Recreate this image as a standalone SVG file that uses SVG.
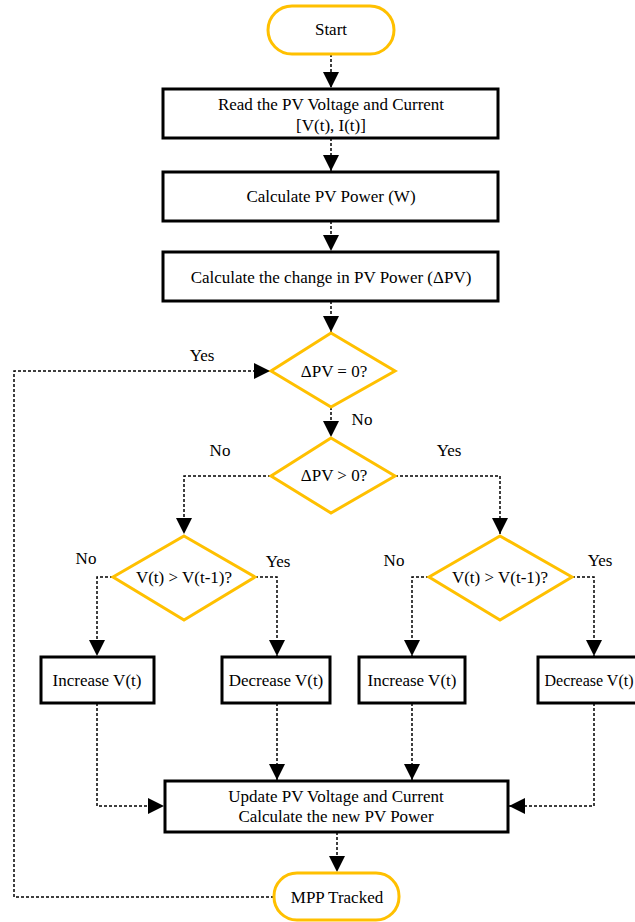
<svg xmlns="http://www.w3.org/2000/svg" width="635" height="922" viewBox="0 0 635 922">
<defs>
<marker id="ah" viewBox="0 0 10 10" refX="10" refY="5" markerWidth="16" markerHeight="16" markerUnits="userSpaceOnUse" orient="auto">
<path d="M0,0 L10,5 L0,10 Z" fill="#000"/>
</marker>
<style>
.t{font-family:"Liberation Serif","Times New Roman",serif;font-size:17px;fill:#000;text-anchor:middle}
.box{fill:#fff;stroke:#000;stroke-width:3}
.dec{fill:#fff;stroke:#FFC000;stroke-width:3}
.c{fill:none;stroke:#000;stroke-width:1.5;stroke-dasharray:3,2}
</style>
</defs>
<rect width="635" height="922" fill="#fff"/>
<g id="connectors">
<path class="c" d="M331,54 V88" marker-end="url(#ah)"/>
<path class="c" d="M331,138 V171" marker-end="url(#ah)"/>
<path class="c" d="M331,221 V251" marker-end="url(#ah)"/>
<path class="c" d="M331,301 V332" marker-end="url(#ah)"/>
<path class="c" d="M331,407 V437" marker-end="url(#ah)"/>
<path class="c" d="M271,476 H184 V534" marker-end="url(#ah)"/>
<path class="c" d="M395,476 H500 V534" marker-end="url(#ah)"/>
<path class="c" d="M113,577 H97 V656" marker-end="url(#ah)"/>
<path class="c" d="M255,577 H277 V656" marker-end="url(#ah)"/>
<path class="c" d="M429,577 H412 V656" marker-end="url(#ah)"/>
<path class="c" d="M572,577 H594 V656" marker-end="url(#ah)"/>
<path class="c" d="M97,703 V806 H164" marker-end="url(#ah)"/>
<path class="c" d="M277,703 V780" marker-end="url(#ah)"/>
<path class="c" d="M412,703 V780" marker-end="url(#ah)"/>
<path class="c" d="M594,703 V806 H509" marker-end="url(#ah)"/>
<path class="c" d="M337,832 V872" marker-end="url(#ah)"/>
<path class="c" d="M274,897 H14 V371 H270" marker-end="url(#ah)"/>
</g>
<g id="start">
<rect class="dec" x="268" y="6" width="126" height="48" rx="24"/>
<text class="t" x="331" y="35">Start</text>
</g>
<g id="read">
<rect class="box" x="163" y="89" width="335" height="49"/>
<text class="t" x="331" y="110">Read the PV Voltage and Current</text>
<text class="t" x="331" y="131">[V(t), I(t)]</text>
</g>
<g id="calcpower">
<rect class="box" x="163" y="172" width="335" height="49"/>
<text class="t" x="331" y="202">Calculate PV Power (W)</text>
</g>
<g id="calcchange">
<rect class="box" x="163" y="252" width="335" height="49"/>
<text class="t" x="331" y="283">Calculate the change in PV Power (ΔPV)</text>
</g>
<g id="dec1">
<polygon class="dec" points="331,333 395,371 331,407 271,371"/>
<text class="t" x="334" y="377">ΔPV = 0?</text>
</g>
<g id="dec2">
<polygon class="dec" points="331,438 395,476 331,513 271,476"/>
<text class="t" x="334" y="481">ΔPV &gt; 0?</text>
</g>
<g id="dec3">
<polygon class="dec" points="184,536 255,577 184,620 113,577"/>
<text class="t" x="184" y="583">V(t) &gt; V(t-1)?</text>
</g>
<g id="dec4">
<polygon class="dec" points="500,536 572,577 500,620 429,577"/>
<text class="t" x="500" y="583">V(t) &gt; V(t-1)?</text>
</g>
<g id="inc1">
<rect class="box" x="41" y="657" width="113" height="46"/>
<text class="t" x="97" y="686">Increase V(t)</text>
</g>
<g id="decv1">
<rect class="box" x="222" y="657" width="108" height="46"/>
<text class="t" x="276" y="686">Decrease V(t)</text>
</g>
<g id="inc2">
<rect class="box" x="359" y="657" width="106" height="46"/>
<text class="t" x="412" y="686">Increase V(t)</text>
</g>
<g id="decv2">
<rect class="box" x="538" y="657" width="108" height="46"/>
<text class="t" x="589" y="686" style="font-size:16px">Decrease V(t)</text>
</g>
<g id="update">
<rect class="box" x="165" y="781" width="343" height="51"/>
<text class="t" x="336" y="802">Update PV Voltage and Current</text>
<text class="t" x="336" y="822">Calculate the new PV Power</text>
</g>
<g id="mpp">
<rect class="dec" x="274" y="873" width="125" height="47" rx="23"/>
<text class="t" x="337" y="903">MPP Tracked</text>
</g>
<g id="labels">
<text class="t" x="202" y="361">Yes</text>
<text class="t" x="362" y="425">No</text>
<text class="t" x="220" y="456">No</text>
<text class="t" x="449" y="456">Yes</text>
<text class="t" x="86" y="564">No</text>
<text class="t" x="278" y="567">Yes</text>
<text class="t" x="394" y="566">No</text>
<text class="t" x="600" y="566">Yes</text>
</g>
</svg>
